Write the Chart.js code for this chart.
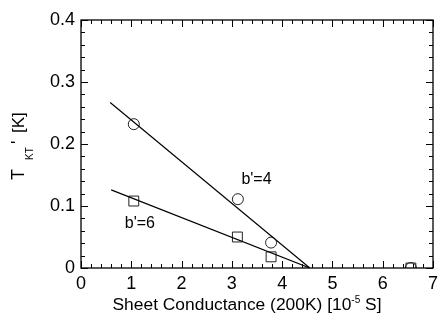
<!DOCTYPE html>
<html><head><meta charset="utf-8">
<script src="https://cdn.jsdelivr.net/npm/chart.js@4/dist/chart.umd.min.js"></script>
<style>html,body{margin:0;padding:0;background:#fff}#c{display:block}</style>
</head><body>
<canvas id="c" width="443" height="322"></canvas>
<script>
const circleX = [1.05, 3.12, 3.78, 6.56];
const circleY = [0.232, 0.111, 0.041, 0.0];
const squareX = [1.05, 3.11, 3.78, 6.56];
const squareY = [0.108, 0.05, 0.018, 0.0];
const fitB4X = [0.58, 4.55];
const fitB4Y = [0.267, 0.0];
const fitB6X = [0.60, 4.55];
const fitB6Y = [0.126, 0.0];
const xTicks = [0, 1, 2, 3, 4, 5, 6, 7];
const yTicks = [0, 0.1, 0.2, 0.3, 0.4];
const labels = ["b'=4", "b'=6"];

const pts = (xs, ys) => xs.map((x, i) => ({x, y: ys[i]}));
const FONT = '"Liberation Sans", Arial, Helvetica, sans-serif';

const framePlugin = {
  id: 'frame',
  afterDatasetsDraw(chart) {
    const {ctx, chartArea: a, scales: {x, y}} = chart;
    ctx.save();
    ctx.strokeStyle = '#000';
    ctx.lineWidth = 1.3;
    ctx.strokeRect(a.left, a.top, a.right - a.left, a.bottom - a.top);
    ctx.lineWidth = 1;
    ctx.beginPath();
    for (let v = 0; v <= 7.0001; v += 0.2) {
      const px = Math.round(x.getPixelForValue(v)) + 0.5;
      const major = Math.abs(v - Math.round(v)) < 1e-6;
      const L = major ? 7 : 4;
      ctx.moveTo(px, a.bottom); ctx.lineTo(px, a.bottom - L);
      ctx.moveTo(px, a.top); ctx.lineTo(px, a.top + L);
    }
    for (let v = 0; v <= 0.4001; v += 0.02) {
      const py = Math.round(y.getPixelForValue(v)) + 0.5;
      const major = Math.abs(v * 10 - Math.round(v * 10)) < 1e-6;
      const L = major ? 7 : 4;
      ctx.moveTo(a.left, py); ctx.lineTo(a.left + L, py);
      ctx.moveTo(a.right, py); ctx.lineTo(a.right - L, py);
    }
    ctx.stroke();
    // annotations
    ctx.fillStyle = '#000';
    ctx.font = '16px ' + FONT;
    ctx.textBaseline = 'middle';
    ctx.textAlign = 'left';
    ctx.fillText(labels[0], x.getPixelForValue(3.19), y.getPixelForValue(0.142));
    ctx.fillText(labels[1], x.getPixelForValue(0.87), y.getPixelForValue(0.071));
    // x title with superscript
    const p1 = 'Sheet Conductance (200K) [10', sup = '-5', p2 = ' S]';
    const big = '17.4px ' + FONT, small = '10px ' + FONT;
    ctx.font = big; const w1 = ctx.measureText(p1).width, w3 = ctx.measureText(p2).width;
    ctx.font = small; const w2 = ctx.measureText(sup).width;
    const total = w1 + w2 + w3;
    let sx = 247 - total / 2;
    const ty = 310;
    ctx.textBaseline = 'alphabetic';
    ctx.font = big; ctx.fillText(p1, sx, ty); sx += w1;
    ctx.font = small; ctx.fillText(sup, sx, ty - 7); sx += w2;
    ctx.font = big; ctx.fillText(p2, sx, ty);
    // y title rotated with subscript
    ctx.translate(24, 180);
    ctx.rotate(-Math.PI / 2);
    ctx.font = '18px ' + FONT; ctx.fillText('T', 0, 0);
    ctx.font = '10px ' + FONT; ctx.fillText('KT', 20, 9);
    ctx.font = '18px ' + FONT; ctx.fillText('\'', 36, 0);
    ctx.font = '17px ' + FONT; ctx.fillText('[K]', 47, 0);
    ctx.restore();
  }
};

new Chart(document.getElementById('c'), {
  type: 'scatter',
  data: {
    datasets: [
      {data: pts(fitB4X, fitB4Y), showLine: true, borderColor: '#000', borderWidth: 1.2, pointRadius: 0},
      {data: pts(fitB6X, fitB6Y), showLine: true, borderColor: '#000', borderWidth: 1.2, pointRadius: 0},
      {data: pts(circleX, circleY), pointStyle: 'circle', pointRadius: 5.5, borderColor: '#222', borderWidth: 1, backgroundColor: 'rgba(0,0,0,0)'},
      {data: pts(squareX, squareY), pointStyle: 'rect', pointRadius: 7, borderColor: '#222', borderWidth: 1, backgroundColor: 'rgba(0,0,0,0)'}
    ]
  },
  options: {
    responsive: false,
    animation: false,
    events: [],
    layout: {padding: {left: 0, right: 6, top: 20, bottom: 0}},
    plugins: {legend: {display: false}, tooltip: {enabled: false}},
    scales: {
      x: {
        type: 'linear', min: 0, max: 7,
        afterBuildTicks: s => { s.ticks = xTicks.map(v => ({value: v})); },
        afterFit: s => { s.height = 54; },
        grid: {display: false, drawTicks: false},
        border: {display: false},
        ticks: {color: '#000', font: {family: FONT, size: 18}, padding: 5, callback: v => String(v), maxRotation: 0}
      },
      y: {
        type: 'linear', min: 0, max: 0.4,
        afterBuildTicks: s => { s.ticks = yTicks.map(v => ({value: v})); },
        afterFit: s => { s.width = 81; },
        grid: {display: false, drawTicks: false},
        border: {display: false},
        ticks: {color: '#000', font: {family: FONT, size: 18}, padding: 6, callback: v => (v === 0 ? '0' : v.toFixed(1))}
      }
    }
  },
  plugins: [framePlugin]
});
</script>
</body></html>
